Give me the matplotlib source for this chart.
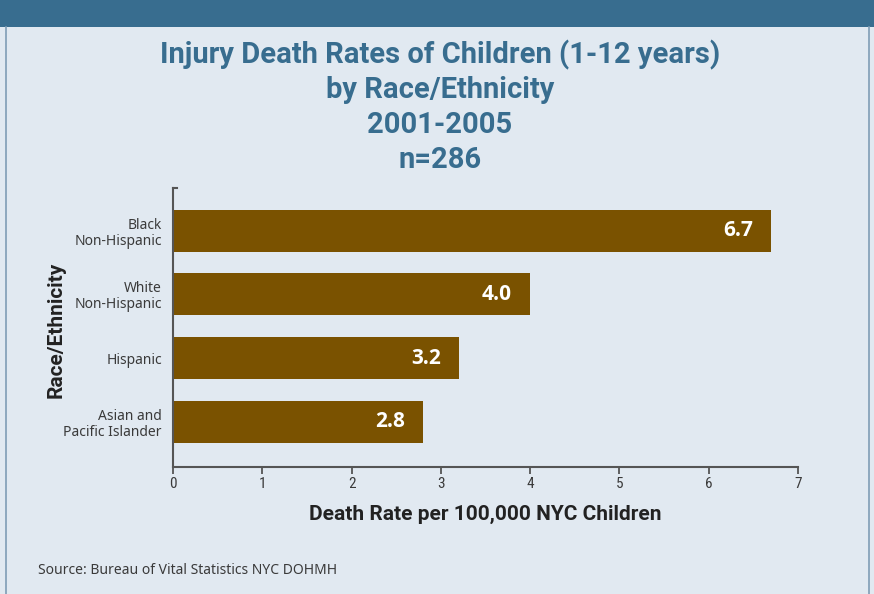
import matplotlib.pyplot as plt
from matplotlib import font_manager
from matplotlib.patches import Rectangle
from matplotlib.lines import Line2D

categories = ["Asian and\nPacific Islander", "Hispanic", "White\nNon-Hispanic", "Black\nNon-Hispanic"]
rates = [2.8, 3.2, 4.0, 6.7]
rate_labels = ["2.8", "3.2", "4.0", "6.7"]
x_ticks = [0, 1, 2, 3, 4, 5, 6, 7]

title_lines = ["Injury Death Rates of Children (1-12 years)", "by Race/Ethnicity", "2001-2005", "n=286"]

BG = "#e1e9f1"
BAND = "#386d8f"
BAR = "#7a5200"
TEXT_GRAY = "#3a3a3a"

# narrow face for the axis numbers, bold face for headings
installed = {f.name for f in font_manager.fontManager.ttflist}
COND_NAME = "DejaVu Sans"
for cand in ["Liberation Sans Narrow", "DejaVu Sans Condensed", "Roboto Condensed",
             "Open Sans Condensed"]:
    if cand in installed:
        COND_NAME = cand
        break
COND = [COND_NAME, "DejaVu Sans"]
STRETCH = "condensed"
HEAD = ["Roboto", "DejaVu Sans"]

fig = plt.figure(figsize=(8.74, 5.94), dpi=100)
fig.patch.set_facecolor(BG)

# header band and side borders
fig.add_artist(Rectangle((0, 1 - 27 / 594), 1, 27 / 594, transform=fig.transFigure,
                         facecolor=BAND, edgecolor="none"))
fig.add_artist(Line2D([6 / 874, 6 / 874], [0, 1 - 27 / 594], transform=fig.transFigure,
                      color="#7f9db5", lw=1.2))
fig.add_artist(Line2D([869 / 874, 869 / 874], [0, 1 - 27 / 594], transform=fig.transFigure,
                      color="#7f9db5", lw=1.2))

# title
title_baselines = [63, 98, 133, 168]
for line, yy in zip(title_lines, title_baselines):
    fig.text(440 / 874, 1 - yy / 594, line, ha="center", va="baseline", color=BAND,
             fontsize=21, fontweight="bold", family=HEAD)

ax = fig.add_axes([173 / 874, (594 - 467) / 594, 625 / 874, 279 / 594])
ax.set_facecolor(BG)

ypos = list(range(len(categories)))
ax.barh(ypos, rates, height=0.66, color=BAR, edgecolor="none")
for y, v, lab in zip(ypos, rates, rate_labels):
    ax.annotate(lab, xy=(v, y), xytext=(-13, 0), textcoords="offset points",
                ha="right", va="center", color="white", fontsize=15, fontweight="bold",
                family=["Open Sans", "DejaVu Sans"])

ax.set_xlim(0, 7)
ax.set_ylim(-0.71, 3.67)
ax.set_xticks(x_ticks)
ax.set_xticklabels([str(t) for t in x_ticks], family=COND, fontstretch=STRETCH,
                   fontsize=11, color=TEXT_GRAY)
ax.set_yticks(ypos)
ax.set_yticklabels(categories, fontsize=10, color=TEXT_GRAY, linespacing=1.1,
                   family=["Noto Sans", "DejaVu Sans"])
ax.tick_params(axis="y", length=0, pad=8)
ax.tick_params(axis="x", length=5, width=1.3, color="#555555", pad=2)

for side in ["top", "right"]:
    ax.spines[side].set_visible(False)
for side in ["left", "bottom"]:
    ax.spines[side].set_color("#555555")
    ax.spines[side].set_linewidth(1.5)

# small cap mark at the top of the vertical axis
ax.add_line(Line2D([0, 0.007], [1, 1], transform=ax.transAxes, color="#555555",
                   lw=1.5, clip_on=False))

fig.text(485 / 874, 1 - 520 / 594, "Death Rate per 100,000 NYC Children", ha="center",
         va="baseline", fontsize=15, fontweight="bold", color="#222222", family=HEAD)
fig.text(56 / 874, 1 - 329.5 / 594, "Race/Ethnicity", rotation=90, ha="center", va="center",
         fontsize=15, fontweight="bold", color="#222222", family=HEAD)

fig.text(38 / 874, 1 - 571 / 594, "Source: Bureau of Vital Statistics NYC DOHMH",
         ha="left", va="center", fontsize=10, color=TEXT_GRAY,
         family=["Noto Sans", "DejaVu Sans"])

fig.savefig("out.png", dpi=100, facecolor=BG)
